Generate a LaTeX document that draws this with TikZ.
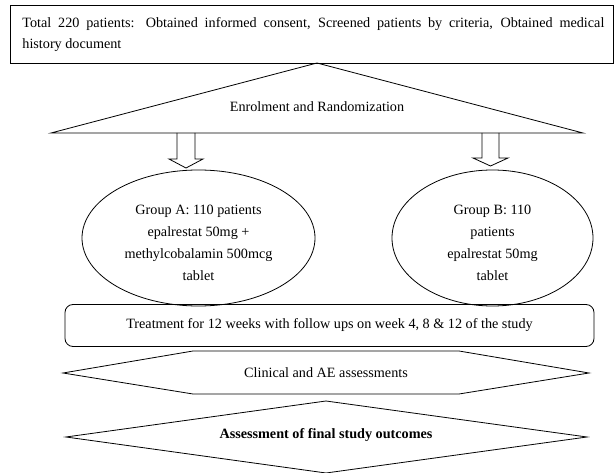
\documentclass[tikz,border=0pt]{standalone}
\usepackage{fontspec}
\setmainfont{Liberation Serif}
\usetikzlibrary{shapes.geometric}
\begin{document}
\begin{tikzpicture}[x=1pt,y=-1pt,line width=0.8pt,
  txt/.style={font=\fontsize{14.2}{22}\selectfont, inner sep=0pt, align=center},
  outline/.style={draw=black, line width=0.8pt},
  blockarrow/.style={draw=black, line width=0.8pt, line join=miter}]
\useasboundingbox (0,0) rectangle (614,473);
% top box
\node[outline, rectangle, minimum width=603pt, minimum height=58pt, anchor=north west, inner sep=0pt] (top) at (10,5) {};
\node[txt, anchor=base west] (t1) at (22,28) {\makebox[582pt][s]{Total 220 patients: Obtained informed consent, Screened patients by criteria, Obtained medical}};
\node[txt, anchor=base west] (t2) at (22,49) {history document};
% triangle
\coordinate (apex) at (317,63);
\coordinate (bl) at (51,133);
\coordinate (br) at (583,133);
\draw[outline] (bl) -- (apex) -- (br) -- cycle;
\node[txt] (enrol) at (317,107) {Enrolment and Randomization};
% groups
\node[outline, ellipse, minimum width=233pt, minimum height=136pt] (gA) at (198.5,238) {};
\node[txt] (gAt) at (198.5,243)
  {Group A: 110 patients\\epalrestat 50mg +\\methylcobalamin 500mcg\\tablet};
\node[outline, ellipse, minimum width=201pt, minimum height=136pt] (gB) at (492.5,238) {};
\node[txt] (gBt) at (492.5,243)
  {Group B: 110\\patients\\epalrestat 50mg\\tablet};
% block arrows
\draw[blockarrow] (177,133) -- (177,159) -- (169,159) -- (186,168) -- (203,159) -- (195,159) -- (195,133);
\draw[blockarrow] (482,133) -- (482,158) -- (473,158) -- (490.5,166) -- (508,158) -- (499,158) -- (499,133);
% treatment
\node[outline, rectangle, rounded corners=8pt, minimum width=529pt, minimum height=42pt, txt] (treat) at (329.5,325.5)
  {Treatment for 12 weeks with follow ups on week 4, 8 \& 12 of the study};
% hexagon
\coordinate (h1) at (63,373);
\coordinate (h2) at (193,351);
\coordinate (h3) at (459,351);
\coordinate (h4) at (589,373);
\coordinate (h5) at (459,394);
\coordinate (h6) at (193,394);
\draw[outline] (h1) -- (h2) -- (h3) -- (h4) -- (h5) -- (h6) -- cycle;
\node[txt] (clin) at (326,373) {Clinical and AE assessments};
% diamond
\coordinate (d1) at (66,437);
\coordinate (d2) at (326,401);
\coordinate (d3) at (587,437);
\coordinate (d4) at (326,473);
\draw[outline] (d1) -- (d2) -- (d3) -- (d4) -- cycle;
\node[txt, font=\fontsize{14.2}{22}\selectfont\bfseries] (final) at (326,435) {Assessment of final study outcomes};
\end{tikzpicture}
\end{document}
